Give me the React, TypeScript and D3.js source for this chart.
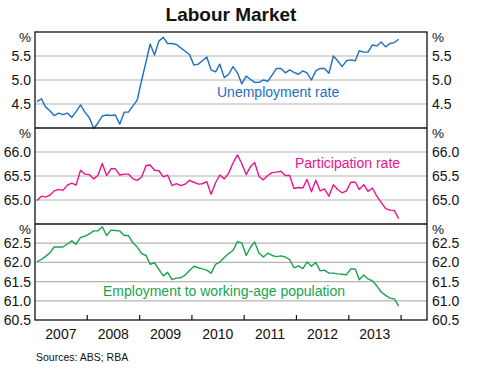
import React from 'react';
import * as d3 from 'd3';

// monthly observations, Jan 2007 - Dec 2013
const months = d3.timeMonths(new Date(2007, 0, 1), new Date(2014, 0, 1)).map(d => d3.timeDay.offset(d, 14));

const unemployment = [
  4.55, 4.61, 4.44, 4.36, 4.26, 4.31, 4.28, 4.31, 4.22, 4.34, 4.48, 4.33,
  4.22, 3.99, 4.10, 4.25, 4.27, 4.26, 4.27, 4.08, 4.33, 4.33, 4.46, 4.58,
  5.00, 5.38, 5.75, 5.52, 5.81, 5.89, 5.76, 5.76, 5.74, 5.67, 5.60, 5.53,
  5.31, 5.33, 5.40, 5.48, 5.21, 5.17, 5.33, 5.05, 5.12, 5.28, 5.15, 4.92,
  5.08, 5.01, 4.95, 4.95, 5.00, 4.97, 5.10, 5.24, 5.24, 5.15, 5.21, 5.16,
  5.12, 5.19, 5.15, 5.00, 5.19, 5.24, 5.24, 5.14, 5.50, 5.40, 5.28, 5.40,
  5.42, 5.40, 5.61, 5.58, 5.58, 5.73, 5.71, 5.79, 5.69, 5.76, 5.78, 5.85,
];

const participation = [
  64.99, 65.08, 65.06, 65.10, 65.19, 65.22, 65.20, 65.31, 65.35, 65.31, 65.62, 65.54,
  65.53, 65.44, 65.51, 65.76, 65.51, 65.65, 65.65, 65.52, 65.54, 65.54, 65.44, 65.41,
  65.48, 65.72, 65.73, 65.62, 65.61, 65.48, 65.52, 65.30, 65.34, 65.30, 65.33, 65.41,
  65.37, 65.33, 65.34, 65.38, 65.12, 65.36, 65.52, 65.44, 65.56, 65.77, 65.94, 65.76,
  65.53, 65.70, 65.78, 65.49, 65.42, 65.51, 65.57, 65.58, 65.60, 65.51, 65.51, 65.24,
  65.26, 65.25, 65.43, 65.17, 65.41, 65.19, 65.23, 65.08, 65.32, 65.22, 65.15, 65.19,
  65.37, 65.37, 65.22, 65.32, 65.18, 65.25, 65.08, 64.95, 64.82, 64.79, 64.78, 64.61,
];

const employment = [
  62.02, 62.08, 62.15, 62.25, 62.40, 62.40, 62.40, 62.48, 62.56, 62.47, 62.65, 62.68,
  62.74, 62.82, 62.82, 62.93, 62.70, 62.84, 62.83, 62.82, 62.70, 62.70, 62.51, 62.40,
  62.23, 62.18, 61.95, 61.99, 61.82, 61.65, 61.74, 61.55, 61.59, 61.60, 61.67, 61.79,
  61.90, 61.86, 61.83, 61.80, 61.72, 61.95, 62.01, 62.13, 62.23, 62.31, 62.54, 62.51,
  62.18, 62.40, 62.53, 62.24, 62.14, 62.24, 62.18, 62.15, 62.17, 62.14, 62.07, 61.86,
  61.91, 61.84, 62.01, 61.90, 62.00, 61.78, 61.80, 61.72, 61.72, 61.70, 61.69, 61.68,
  61.83, 61.83, 61.55, 61.67, 61.57, 61.52, 61.39, 61.23, 61.14, 61.07, 61.05, 60.86,
];

const years = [2007, 2008, 2009, 2010, 2011, 2012, 2013];

const panels = [
  { label: 'Unemployment rate', values: unemployment, domain: [4.0, 6.0], ticks: [4.5, 5.0, 5.5], color: '#1e6fc0', lx: 217, ly: 97 },
  { label: 'Participation rate', values: participation, domain: [64.5, 66.5], ticks: [65.0, 65.5, 66.0], color: '#ee128c', lx: 295, ly: 168 },
  { label: 'Employment to working-age population', values: employment, domain: [60.5, 63.0], ticks: [60.5, 61.0, 61.5, 62.0, 62.5], color: '#19a44c', lx: 103, ly: 296 },
];

const W = 484;
const H = 373;
const left = 35;
const right = 427;
const top = 32;
const ph = 96;
const font = 'Arial, "Liberation Sans", sans-serif';

export default function App() {
  const x = d3.scaleTime()
    .domain([new Date(2007, 0, 1), new Date(2014, 6, 1)])
    .range([left, right]);
  const bottom = top + ph * panels.length;
  const yearTicks = d3.timeYears(new Date(2008, 0, 1), new Date(2014, 1, 1));

  return (
    <svg width={W} height={H} style={{ position: 'absolute', left: 0, top: 0, background: '#fff' }} fontFamily={font}>
      <text x={231} y={20.5} textAnchor="middle" fontSize={19} fontWeight="bold" fill="#111">Labour Market</text>

      {panels.map((p, k) => {
        const y0 = top + ph * k;
        const y = d3.scaleLinear().domain(p.domain).range([y0 + ph, y0]);
        const line = d3.line<number>()
          .x((_, i) => x(months[i]))
          .y(d => y(d));
        return (
          <g key={p.label}>
            {p.ticks.map(t => (
              <g key={t}>
                {t > p.domain[0] && (
                  <line x1={left} x2={right} y1={y(t)} y2={y(t)} stroke="#b4b4b4" strokeWidth={1.2} />
                )}
                <text x={31} y={y(t) + 5} textAnchor="end" fontSize={14} fill="#111">{t.toFixed(1)}</text>
                <text x={432} y={y(t) + 5} fontSize={14} fill="#111">{t.toFixed(1)}</text>
              </g>
            ))}
            <text x={31} y={y0 + 10} textAnchor="end" fontSize={13.5} fill="#111">%</text>
            <text x={432} y={y0 + 10} fontSize={13.5} fill="#111">%</text>
            <path d={line(p.values) ?? ''} fill="none" stroke={p.color} strokeWidth={1.4} strokeLinejoin="round" />
            <text x={p.lx} y={p.ly} fontSize={14} fill={p.color}>{p.label}</text>
            {k > 0 && <line x1={left} x2={right} y1={y0} y2={y0} stroke="#111" strokeWidth={1.3} />}
          </g>
        );
      })}

      <rect x={left} y={top} width={right - left} height={bottom - top} fill="none" stroke="#111" strokeWidth={1.3} />

      {yearTicks.map(d => (
        <line key={+d} x1={x(d)} x2={x(d)} y1={bottom} y2={bottom - 5} stroke="#111" strokeWidth={1.2} />
      ))}
      {years.map(yr => (
        <text key={yr} x={x(new Date(yr, 6, 1))} y={339} textAnchor="middle" fontSize={14} fill="#111">{yr}</text>
      ))}

      <text x={36} y={361} fontSize={10.5} fill="#111">Sources: ABS; RBA</text>
    </svg>
  );
}
